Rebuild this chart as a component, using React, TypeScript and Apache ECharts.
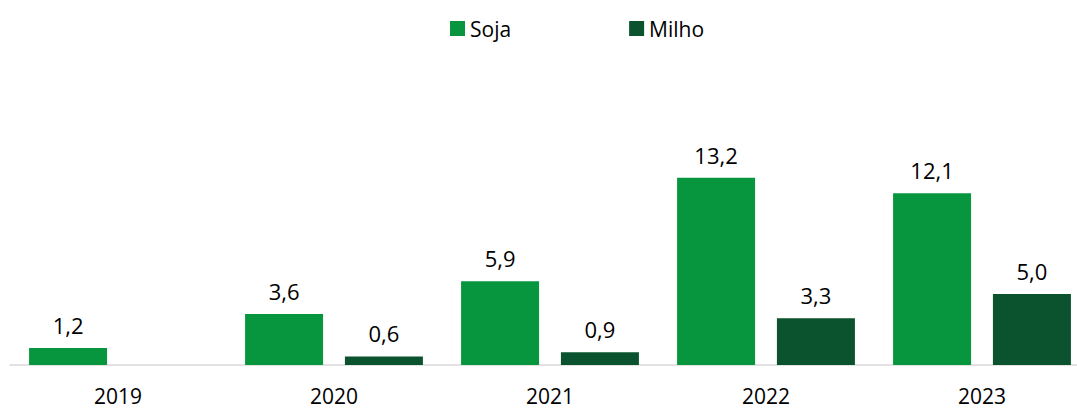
import React, { useEffect, useRef } from "react";
import * as echarts from "echarts";

const categories = ["2019", "2020", "2021", "2022", "2023"];
const soja = [1.2, 3.6, 5.9, 13.2, 12.1];
const milho = [null, 0.6, 0.9, 3.3, 5.0];
const seriesNames = ["Soja", "Milho"];

const FONT = "'Open Sans', sans-serif";

export default function App() {
  const ref = useRef<HTMLDivElement>(null);
  useEffect(() => {
    const chart = echarts.init(ref.current!, null, { renderer: "svg" });
    const fmt = (p: any) =>
      p.value == null ? "" : Number(p.value).toFixed(1).replace(".", ",");
    const label = {
      show: true,
      position: "top",
      distance: 12,
      color: "#000",
      fontFamily: FONT,
      fontSize: 22,
      formatter: fmt,
    };
    chart.setOption({
      animation: false,
      backgroundColor: "#fff",
      legend: {
        left: 445,
        top: 13,
        itemWidth: 15,
        itemHeight: 15,
        itemGap: 118,
        icon: "rect",
        textStyle: { fontFamily: FONT, fontSize: 21, color: "#000" },
        data: seriesNames,
      },
      grid: { left: 10, right: 0, top: 138, bottom: 46 },
      xAxis: {
        type: "category",
        data: categories,
        axisLine: { lineStyle: { color: "#d9d9d9", width: 1.5 } },
        axisTick: { show: false },
        axisLabel: {
          color: "#000",
          fontFamily: FONT,
          fontSize: 21,
          margin: 20,
          lineHeight: 21,
        },
      },
      yAxis: {
        type: "value",
        min: 0,
        max: 16,
        show: false,
        splitLine: { show: false },
      },
      series: [
        {
          name: seriesNames[0],
          type: "bar",
          data: soja,
          barWidth: 78,
          barGap: "28%",
          itemStyle: { color: "#07963d" },
          label,
        },
        {
          name: seriesNames[1],
          type: "bar",
          data: milho,
          barWidth: 78,
          itemStyle: { color: "#0a532e" },
          label,
        },
      ],
    });
    return () => chart.dispose();
  }, []);
  return (
    <div
      style={{
        position: "absolute",
        left: 0,
        top: 0,
        width: 1077,
        height: 411,
        overflow: "hidden",
        background: "#fff",
      }}
    >
      <div ref={ref} style={{ width: 1090, height: 411 }} />
    </div>
  );
}
